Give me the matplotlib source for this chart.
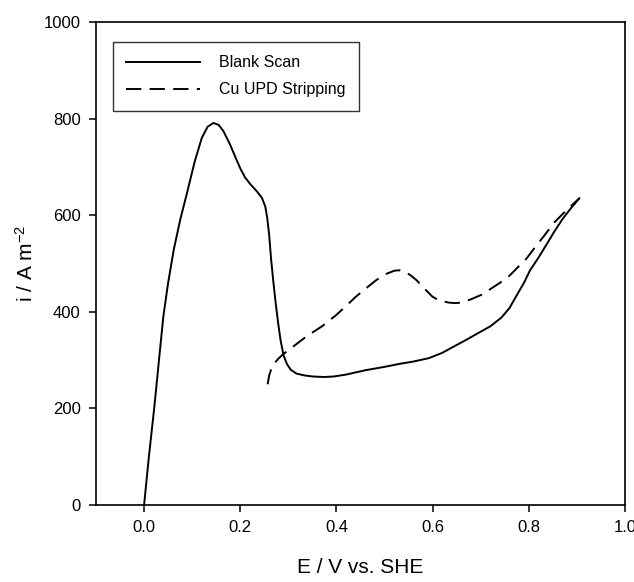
import matplotlib
matplotlib.use('Agg')
from matplotlib import pyplot as plt

# Blank scan (solid)
blank_e = [0.0, 0.010, 0.021, 0.031, 0.040, 0.050, 0.062, 0.075, 0.089, 0.105,
           0.120, 0.132, 0.144, 0.155, 0.165, 0.178, 0.190, 0.200, 0.210, 0.222,
           0.234, 0.245, 0.252, 0.256, 0.260, 0.264, 0.269, 0.274, 0.279, 0.284,
           0.290, 0.297, 0.305, 0.317, 0.335, 0.352, 0.375, 0.394, 0.420, 0.460,
           0.500, 0.530, 0.560, 0.592, 0.620, 0.642, 0.670, 0.693, 0.720, 0.743,
           0.760, 0.773, 0.790, 0.802, 0.820, 0.836, 0.853, 0.870, 0.888, 0.905]
blank_i = [0, 100, 200, 300, 390, 460, 530, 590, 645, 710,
           760, 783, 791, 787, 774, 748, 720, 697, 678, 663,
           650, 636, 618, 595, 560, 510, 460, 415, 375, 340,
           310, 292, 280, 272, 268, 266, 265, 266, 270, 279,
           286, 292, 297, 304, 315, 327, 342, 355, 370, 388,
           408, 431, 460, 485, 512, 538, 566, 592, 615, 635]

# Cu UPD stripping (dashed)
strip_e = [0.257, 0.260, 0.264, 0.270, 0.279, 0.289, 0.310, 0.339, 0.370, 0.398,
           0.420, 0.440, 0.462, 0.482, 0.500, 0.520, 0.530, 0.541, 0.555, 0.567,
           0.585, 0.600, 0.615, 0.634, 0.647, 0.659, 0.680, 0.701, 0.720, 0.743,
           0.760, 0.777, 0.795, 0.811, 0.830, 0.853, 0.880, 0.905]
strip_i = [250, 268, 280, 292, 303, 312, 328, 350, 370, 392,
           412, 431, 449, 465, 477, 485, 486, 484, 475, 465,
           446, 431, 423, 419, 418, 419, 426, 435, 447, 462,
           475, 492, 510, 531, 555, 585, 612, 635]

FONT = ['Liberation Sans Narrow', 'Liberation Sans', 'DejaVu Sans']

plt.rcParams['font.family'] = FONT
plt.rcParams['mathtext.default'] = 'regular'
plt.rcParams['lines.scale_dashes'] = False

fig = plt.figure(figsize=(6.34, 5.82), dpi=100)
ax = fig.add_axes([0.1514, 0.1323, 0.8344, 0.8299])

ax.plot(blank_e, blank_i, color='black', lw=1.4, label='Blank Scan')
ax.plot(strip_e, strip_i, color='black', lw=1.4, linestyle=(0, (11, 6)),
        label='Cu UPD Stripping')

ax.set_xlim(-0.1, 1.0)
ax.set_ylim(0, 1000)
ax.set_xticks([0.0, 0.2, 0.4, 0.6, 0.8, 1.0])
ax.set_yticks([0, 200, 400, 600, 800, 1000])
ax.set_xticklabels(['0.0', '0.2', '0.4', '0.6', '0.8', '1.0'])
ax.tick_params(direction='out', length=5, width=1.1, labelsize=12, pad=6)

for s in ax.spines.values():
    s.set_linewidth(1.2)

ax.set_xlabel('E / V vs. SHE', fontsize=15, labelpad=16)
ax.set_ylabel('i / A m$^{-2}$', fontsize=15, labelpad=5)

leg = ax.legend(loc='upper left', bbox_to_anchor=(0.032, 0.959), fontsize=11.5,
                frameon=True, fancybox=False, edgecolor='black',
                handlelength=4.6, handletextpad=1.2, borderpad=0.85,
                labelspacing=0.75, borderaxespad=0)
leg.get_frame().set_linewidth(1.0)

plt.savefig('out.png', dpi=100)
